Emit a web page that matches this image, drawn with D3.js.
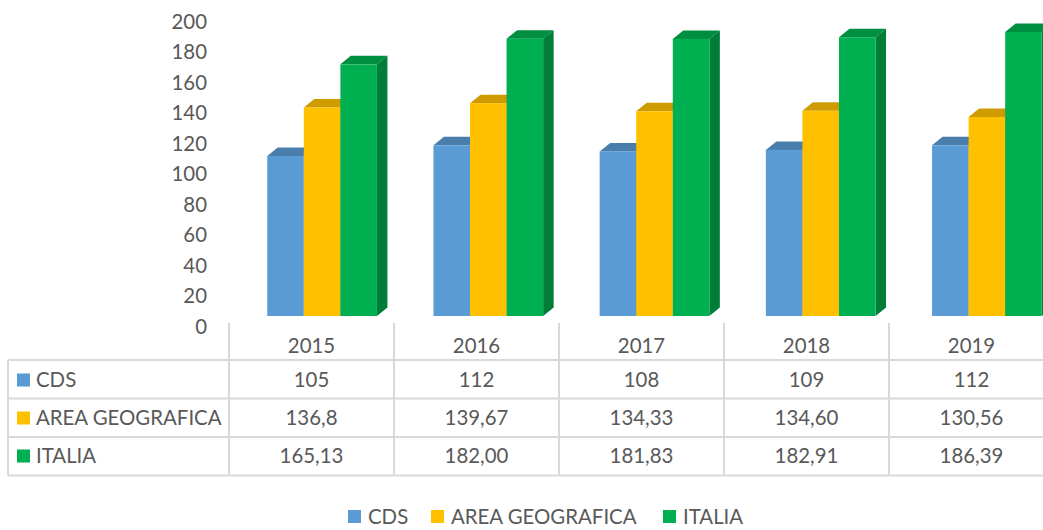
<!DOCTYPE html>
<html>
<head>
<meta charset="utf-8">
<script src="https://cdn.jsdelivr.net/npm/d3@7"></script>
<style>
  body { margin: 0; background: #fff; }
  text { font-family: Lato, "Open Sans", sans-serif; fill: #595959; }
</style>
</head>
<body>
<svg id="drawing_region"></svg>
<script>
const years = ["2015", "2016", "2017", "2018", "2019"];
const seriesNames = ["CDS", "AREA GEOGRAFICA", "ITALIA"];
const cdsValues = [105, 112, 108, 109, 112];
const areaValues = [136.8, 139.67, 134.33, 134.60, 130.56];
const italiaValues = [165.13, 182.00, 181.83, 182.91, 186.39];
// labels as printed in the table
const cdsLabels = ["105", "112", "108", "109", "112"];
const areaLabels = ["136,8", "139,67", "134,33", "134,60", "130,56"];
const italiaLabels = ["165,13", "182,00", "181,83", "182,91", "186,39"];
const yTicks = [0, 20, 40, 60, 80, 100, 120, 140, 160, 180, 200];

const colors = ["#5b9bd5", "#ffc000", "#00b050"];

const series = [
    { name: seriesNames[0], values: cdsValues, labels: cdsLabels },
    { name: seriesNames[1], values: areaValues, labels: areaLabels },
    { name: seriesNames[2], values: italiaValues, labels: italiaLabels }
];

const width = 1043, height = 530;
const fs = 20.4;
const svg = d3.select("#drawing_region")
    .attr("width", width)
    .attr("height", height);

// 3D depth offset
const dx = 10.5, dy = -8.5;

const yscale = d3.scaleLinear()
    .domain([0, 200])
    .range([316, 11.2]);

// bars group scale (slightly wider pitch than the table columns, like the perspective)
const xgroup = d3.scaleBand()
    .domain(years)
    .range([239, 1070])
    .paddingInner(0.34)
    .paddingOuter(0.17);

const xseries = d3.scaleBand()
    .domain(seriesNames)
    .range([0, xgroup.bandwidth()]);

// table columns
const col0 = 8, col1 = 229, colW = 165;
const xcell = d3.scaleBand()
    .domain(years)
    .range([col1, col1 + colW * years.length]);

// y axis labels
const yaxis = d3.axisLeft(yscale)
    .tickValues(yTicks)
    .tickSize(0)
    .tickPadding(0)
    .tickFormat(d3.format("d"));

const yaxis_group = svg.append("g")
    .attr("transform", `translate(207, 10.5)`)
    .call(yaxis);
yaxis_group.select(".domain").remove();
yaxis_group.selectAll("text")
    .attr("font-size", fs)
    .style("font-family", "Lato, sans-serif")
    .attr("fill", "#595959");

// bars
const chart = svg.append("g");
years.forEach((yr, i) => {
    series.forEach((s, j) => {
        const x = xgroup(yr) + xseries(s.name);
        const w = xseries.bandwidth();
        const top = yscale(s.values[i]);
        const bottom = yscale(0);
        const base = d3.color(colors[j]);
        const g = chart.append("g");
        // top face
        g.append("path")
            .attr("d", `M${x},${top} L${x + dx},${top + dy} L${x + w + dx},${top + dy} L${x + w},${top} Z`)
            .attr("fill", base.darker(0.6));
        // side face
        g.append("path")
            .attr("d", `M${x + w},${top} L${x + w + dx},${top + dy} L${x + w + dx},${bottom + dy} L${x + w},${bottom} Z`)
            .attr("fill", base.darker(0.95));
        // front face
        g.append("rect")
            .attr("x", x)
            .attr("y", top)
            .attr("width", w)
            .attr("height", bottom - top)
            .attr("fill", colors[j]);
    });
});

// data table
const rowLines = [360, 398.5, 437, 475.5];
const lineColor = "#d9d9d9";
const table = svg.append("g");

rowLines.forEach(y => {
    table.append("line")
        .attr("x1", col0).attr("x2", width)
        .attr("y1", y).attr("y2", y)
        .attr("stroke", lineColor).attr("stroke-width", 2);
});
table.append("line")
    .attr("x1", col0).attr("x2", col0)
    .attr("y1", 360).attr("y2", 475.5)
    .attr("stroke", lineColor).attr("stroke-width", 2);
years.forEach(yr => {
    table.append("line")
        .attr("x1", xcell(yr)).attr("x2", xcell(yr))
        .attr("y1", 323).attr("y2", 475.5)
        .attr("stroke", lineColor).attr("stroke-width", 2);
});

// year header
table.selectAll(".year")
    .data(years)
    .enter()
    .append("text")
    .attr("x", d => xcell(d) + xcell.bandwidth() / 2)
    .attr("y", 346)
    .attr("dy", "0.35em")
    .attr("text-anchor", "middle")
    .attr("font-size", fs)
    .text(d => d);

const rowCenters = [380, 418, 456];
series.forEach((s, j) => {
    table.append("rect")
        .attr("x", 17).attr("y", rowCenters[j] - 6.5)
        .attr("width", 13).attr("height", 13)
        .attr("fill", colors[j]);
    table.append("text")
        .attr("x", 36)
        .attr("y", rowCenters[j])
        .attr("dy", "0.35em")
        .attr("font-size", fs)
        .text(s.name);
    table.selectAll(".v" + j)
        .data(s.labels)
        .enter()
        .append("text")
        .attr("x", (d, i) => xcell(years[i]) + xcell.bandwidth() / 2)
        .attr("y", rowCenters[j])
        .attr("dy", "0.35em")
        .attr("text-anchor", "middle")
        .attr("font-size", fs)
        .text(d => d);
});

// legend
const legendX = [348, 431, 663];
const legend = svg.append("g");
series.forEach((s, j) => {
    legend.append("rect")
        .attr("x", legendX[j]).attr("y", 510)
        .attr("width", 13).attr("height", 13)
        .attr("fill", colors[j]);
    legend.append("text")
        .attr("x", legendX[j] + 20)
        .attr("y", 516.5)
        .attr("dy", "0.35em")
        .attr("font-size", fs)
        .text(s.name);
});
</script>
</body>
</html>
